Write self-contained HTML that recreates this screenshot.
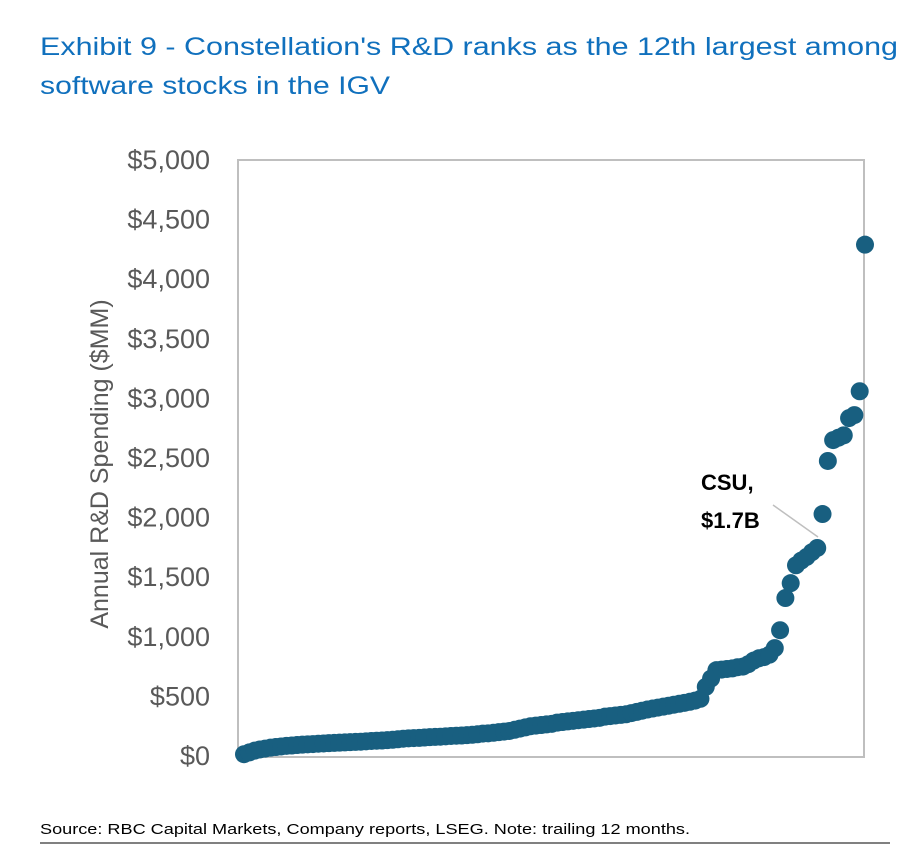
<!DOCTYPE html>
<html><head><meta charset="utf-8"><style>
html,body{margin:0;padding:0;background:#fff;}
svg{display:block;font-family:"Liberation Sans",sans-serif;}
</style></head><body>
<svg id="chart" width="906" height="868" viewBox="0 0 906 868" xmlns="http://www.w3.org/2000/svg">
<text x="40" y="55" font-size="25" fill="#1070bd" textLength="858" lengthAdjust="spacingAndGlyphs">Exhibit 9 - Constellation's R&amp;D ranks as the 12th largest among</text>
<text x="40" y="94" font-size="25" fill="#1070bd" textLength="350" lengthAdjust="spacingAndGlyphs">software stocks in the IGV</text>
<rect x="238" y="160" width="626" height="597" fill="none" stroke="#bfbfbf" stroke-width="2"/>
<g id="yticks"></g>
<text transform="translate(108,464) rotate(-90)" text-anchor="middle" font-size="25" fill="#595959">Annual R&amp;D Spending ($MM)</text>
<g id="dots"></g>
<line x1="773" y1="505" x2="818" y2="537" stroke="#bfbfbf" stroke-width="1.5"/>
<text x="701" y="490" font-size="22" font-weight="bold" fill="#000">CSU,</text>
<text x="701" y="528" font-size="22" font-weight="bold" fill="#000">$1.7B</text>
<text x="40" y="834" font-size="15" fill="#000" textLength="650" lengthAdjust="spacingAndGlyphs">Source: RBC Capital Markets, Company reports, LSEG. Note: trailing 12 months.</text>
<line x1="40" y1="843" x2="890" y2="843" stroke="#000" stroke-width="1"/>
</svg>
<script>
const yTickValues = [0,500,1000,1500,2000,2500,3000,3500,4000,4500,5000];
const yTickLabels = ["$0","$500","$1,000","$1,500","$2,000","$2,500","$3,000","$3,500","$4,000","$4,500","$5,000"];
const rdSpending = [15,30,45,55,62,70,75,80,85,88,92,
95,98,100,103,105,108,110,112,114,116,118,120,123,126,128,130,133,136,140,145,
148,150,152,155,158,160,162,165,168,170,172,175,178,182,188,
190,195,200,205,210,220,230,240,250,255,260,265,270,280,285,
290,295,300,305,310,315,320,330,335,340,345,350,360,370,380,
390,398,406,414,422,430,438,446,455,465,480,
580,650,720,725,730,735,745,750,770,800,820,830,850,905,1055,1325,1450,1600,1640,1670,1710,1745,2030,2475,2650,2670,2690,2835,2860,3060,4290];
const NS="http://www.w3.org/2000/svg";
const yMin=0,yMax=5000,py0=756,py1=160;
function yScale(v){return py0-(v-yMin)/(yMax-yMin)*(py0-py1);}
const x0=244,x1=865;
function xScale(i){return x0+i*(x1-x0)/(rdSpending.length-1);}
const yt=document.getElementById('yticks');
yTickValues.forEach((v,k)=>{
  const t=document.createElementNS(NS,'text');
  
  
  t.setAttribute('x',210);t.setAttribute('y',yScale(v)+9);
  t.setAttribute('text-anchor','end');t.setAttribute('font-size','27');t.setAttribute('fill','#595959');
  t.textContent=yTickLabels[k];yt.appendChild(t);
});
const g=document.getElementById('dots');
rdSpending.forEach((v,i)=>{
  const c=document.createElementNS(NS,'circle');
  
  
  c.setAttribute('cx',xScale(i));c.setAttribute('cy',yScale(v));c.setAttribute('r',9);
  c.setAttribute('fill','#185f80');g.appendChild(c);
});
</script>
</body></html>
